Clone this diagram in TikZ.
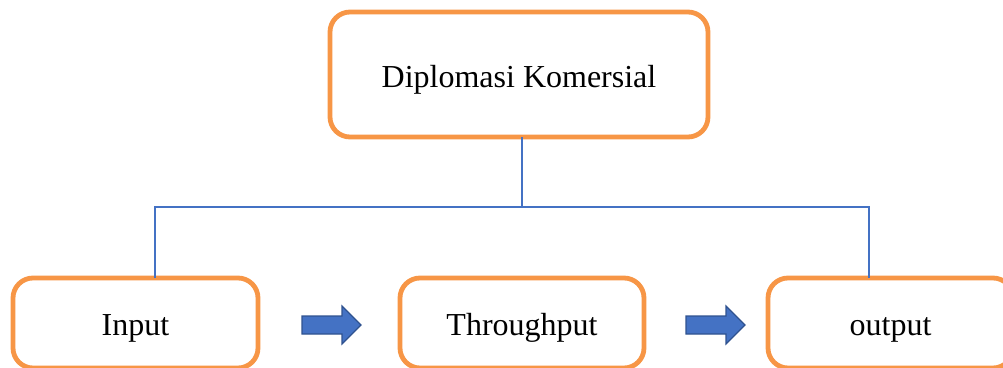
\documentclass[tikz,border=0pt]{standalone}
\usepackage{fontspec}
\setmainfont{Liberation Serif}
\definecolor{boxorange}{HTML}{F79646}
\definecolor{linkblue}{HTML}{4472C4}
\definecolor{arrowedge}{HTML}{2F528F}
\tikzset{
  orangebox/.style={draw=boxorange, line width=4.8pt, rounded corners=20pt, fill=white,
    inner sep=0pt, outer sep=0pt, text height=25pt, text depth=0pt,
    font=\fontsize{32}{38}\selectfont},
  link/.style={draw=linkblue, line width=1.1pt},
  blockarrow/.style={fill=linkblue, draw=arrowedge, line width=1.2pt, line join=miter}
}
\begin{document}
\begin{tikzpicture}[x=1pt,y=-1pt]
\useasboundingbox (0,0) rectangle (1003,367);
\clip (0,0) rectangle (1003,367);
\node[orangebox, minimum width=378pt, minimum height=125pt] (top) at (519,74.5) {Diplomasi Komersial};
\node[orangebox, minimum width=245pt, minimum height=90pt] (input) at (135.5,323) {Input};
\node[orangebox, minimum width=244pt, minimum height=90pt] (through) at (522,323) {Throughput};
\node[orangebox, minimum width=245pt, minimum height=90pt] (outp) at (890.5,323) {output};
\coordinate (jl) at (155,207);
\coordinate (jr) at (869,207);
\draw[link] (top.south -| 522,0) -- (522,207);
\draw[link] (jl |- input.north) -- (jl) -- (jr) -- (jr |- outp.north);
\draw[blockarrow] (302,316) -- (342,316) -- (342,306) -- (361,325) -- (342,344) -- (342,334) -- (302,334) -- cycle;
\draw[blockarrow] (686,316) -- (726,316) -- (726,306) -- (745,325) -- (726,344) -- (726,334) -- (686,334) -- cycle;
\end{tikzpicture}
\end{document}
